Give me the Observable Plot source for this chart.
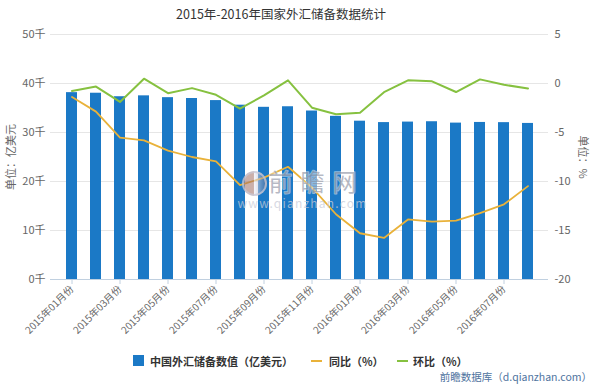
<!DOCTYPE html>
<html>
<head>
<meta charset="utf-8">
<script src="https://cdn.jsdelivr.net/npm/d3@7"></script>
<script src="https://cdn.jsdelivr.net/npm/@observablehq/plot@0.6"></script>
<style>
  html, body { margin: 0; padding: 0; background: #fff; }
  body { font-family: "Noto Sans CJK SC", "Noto Sans", sans-serif; }
  #wrap { position: relative; width: 600px; height: 384px; overflow: hidden; }
  #chart { position: absolute; left: 0; top: 0; }
  .abs { position: absolute; white-space: nowrap; }
  #title { left: 0; width: 562px; top: 4px; text-align: center; font-size: 12.5px; color: #333; }
  .axtitle { font-size: 11px; color: #666; transform-origin: center center; }
  #legend { left: 0; top: 352px; height: 18px; width: 600px; font-size: 11px; font-weight: bold; color: #333; }
  #legend span { position: absolute; top: 0; line-height: 18px; }
  #source { right: 8px; top: 369px; font-size: 10.5px; color: #4f74a0; }
  #logo { left: 242px; top: 171px; width: 21px; height: 21px; border-radius: 50%;
          border: 2px solid rgba(200,200,215,0.75);
          background: linear-gradient(90deg, rgba(160,110,100,0.55) 0%, rgba(160,110,100,0.55) 45%, rgba(235,235,245,0.6) 50%, rgba(120,120,150,0.45) 100%); }
</style>
</head>
<body>
<div id="wrap">
  <div id="chart"></div>
  <div id="logo" class="abs"></div>
  <div id="title" class="abs"></div>
  <div id="ltitle" class="abs axtitle"></div>
  <div id="rtitle" class="abs axtitle"></div>
  <div id="legend" class="abs"></div>
  <div id="source" class="abs"></div>
</div>
<script>
// ---- data ----
const months = ["2015年01月份","2015年02月份","2015年03月份","2015年04月份","2015年05月份","2015年06月份","2015年07月份","2015年08月份","2015年09月份","2015年10月份","2015年11月份","2015年12月份","2016年01月份","2016年02月份","2016年03月份","2016年04月份","2016年05月份","2016年06月份","2016年07月份","2016年08月份"];
const reserves = [38134,38015,37300,37481,37111,36938,36513,35574,35141,35255,34383,33304,32309,32023,32126,32197,31917,32052,32011,31851];
const yoy = [-1.38,-2.87,-5.52,-5.80,-6.85,-7.50,-7.94,-10.37,-9.61,-8.50,-10.63,-13.34,-15.28,-15.76,-13.87,-14.10,-14.00,-13.23,-12.33,-10.47];
const mom = [-0.77,-0.31,-1.88,0.49,-0.99,-0.47,-1.15,-2.57,-1.22,0.32,-2.47,-3.14,-2.99,-0.89,0.32,0.22,-0.87,0.42,-0.13,-0.50];
const leftTicks = [0,10000,20000,30000,40000,50000];
const rightTicks = [-20,-15,-10,-5,0,5];
const xTickLabels = ["2015年01月份","2015年03月份","2015年05月份","2015年07月份","2015年09月份","2015年11月份","2016年01月份","2016年03月份","2016年05月份","2016年07月份"];

const titleText = "2015年-2016年国家外汇储备数据统计";
const leftAxisTitle = "单位：亿美元";
const rightAxisTitle = "单位：%";
const seriesNames = ["中国外汇储备数值（亿美元）","同比（%）","环比（%）"];
const sourceText = "前瞻数据库（d.qianzhan.com）";
const watermark = ["前瞻网", "www.qianzhan.com"];

const colors = {bar: "#1b79c6", yoy: "#e9b23a", mom: "#86c140", grid: "#e6e6e6", axis: "#c0d0e0", text: "#666"};

// right axis (-20..5) mapped onto the left scale (0..50000)
const k = leftTicks[leftTicks.length-1] / (rightTicks[rightTicks.length-1] - rightTicks[0]);
const toLeft = v => (v - rightTicks[0]) * k;
const fromLeft = y => y / k + rightTicks[0];

const data = months.map((m, i) => ({month: m, value: reserves[i], yoy: yoy[i], mom: mom[i]}));

const chart = Plot.plot({
  width: 600,
  height: 384,
  marginTop: 34,
  marginBottom: 105,
  marginLeft: 50,
  marginRight: 52,
  style: {fontFamily: "'Noto Sans CJK SC', 'Noto Sans', sans-serif", fontSize: "11px", background: "transparent", color: colors.text},
  x: {type: "band", domain: months, padding: 0.56, label: null},
  y: {domain: [0, 50000], label: null},
  marks: [
    Plot.ruleY(leftTicks.filter(d => d > 0), {stroke: colors.grid, strokeWidth: 1}),
    Plot.barY(data, {x: "month", y: "value", fill: colors.bar}),
    Plot.ruleY([0], {stroke: colors.axis, strokeWidth: 1}),
    Plot.line(data, {x: "month", y: d => toLeft(d.yoy), stroke: colors.yoy, strokeWidth: 1.8}),
    Plot.line(data, {x: "month", y: d => toLeft(d.mom), stroke: colors.mom, strokeWidth: 2}),
    Plot.axisY(leftTicks, {anchor: "left", tickSize: 0, tickPadding: 5, tickFormat: d => (d/1000) + "千", fill: colors.text, fontSize: 11, label: null}),
    Plot.axisY(rightTicks.map(toLeft), {anchor: "right", tickSize: 0, tickPadding: 6, tickFormat: d => String(Math.round(fromLeft(d))), fill: colors.text, fontSize: 11, label: null}),
    Plot.axisX(xTickLabels, {anchor: "bottom", tickSize: 5, tickPadding: 3, tickRotate: -45, stroke: colors.axis, fill: colors.text, fontSize: 10, label: null}),
    Plot.text([watermark[0]], {frameAnchor: "middle", dx: 17, dy: 26, fontSize: 24, fill: "#858a9c", fillOpacity: 0.6, stroke: "#ffffff", strokeOpacity: 0.5, strokeWidth: 1.5}),
    Plot.text([watermark[1]], {frameAnchor: "middle", dx: 3, dy: 47, fontSize: 12, fill: "#c9ccd8", fillOpacity: 0.75})
  ]
});
d3.select(chart).selectAll("text").each(function() {
  const t = this.textContent;
  if (t === watermark[0]) this.style.letterSpacing = "8px";
  if (t === watermark[1]) this.style.letterSpacing = "1.2px";
});
document.getElementById("chart").appendChild(chart);

document.getElementById("title").textContent = titleText;

const lt = document.getElementById("ltitle");
lt.textContent = leftAxisTitle;
lt.style.left = (10 - 33) + "px";
lt.style.top = (157 - 8) + "px";
lt.style.width = "66px";
lt.style.textAlign = "center";
lt.style.transform = "rotate(-90deg)";

const rt = document.getElementById("rtitle");
rt.textContent = rightAxisTitle;
rt.style.left = (584 - 25) + "px";
rt.style.top = (157 - 8) + "px";
rt.style.width = "50px";
rt.style.textAlign = "center";
rt.style.transform = "rotate(90deg)";

const lg = document.getElementById("legend");
lg.innerHTML =
  `<span style="left:133px;top:3px;width:11px;height:11px;background:${colors.bar}"></span>` +
  `<span style="left:150px">${seriesNames[0]}</span>` +
  `<span style="left:311px;top:8px;width:11px;height:2px;background:${colors.yoy}"></span>` +
  `<span style="left:329px">${seriesNames[1]}</span>` +
  `<span style="left:397px;top:8px;width:11px;height:2px;background:${colors.mom}"></span>` +
  `<span style="left:413px">${seriesNames[2]}</span>`;

document.getElementById("source").textContent = sourceText;
</script>
</body>
</html>
